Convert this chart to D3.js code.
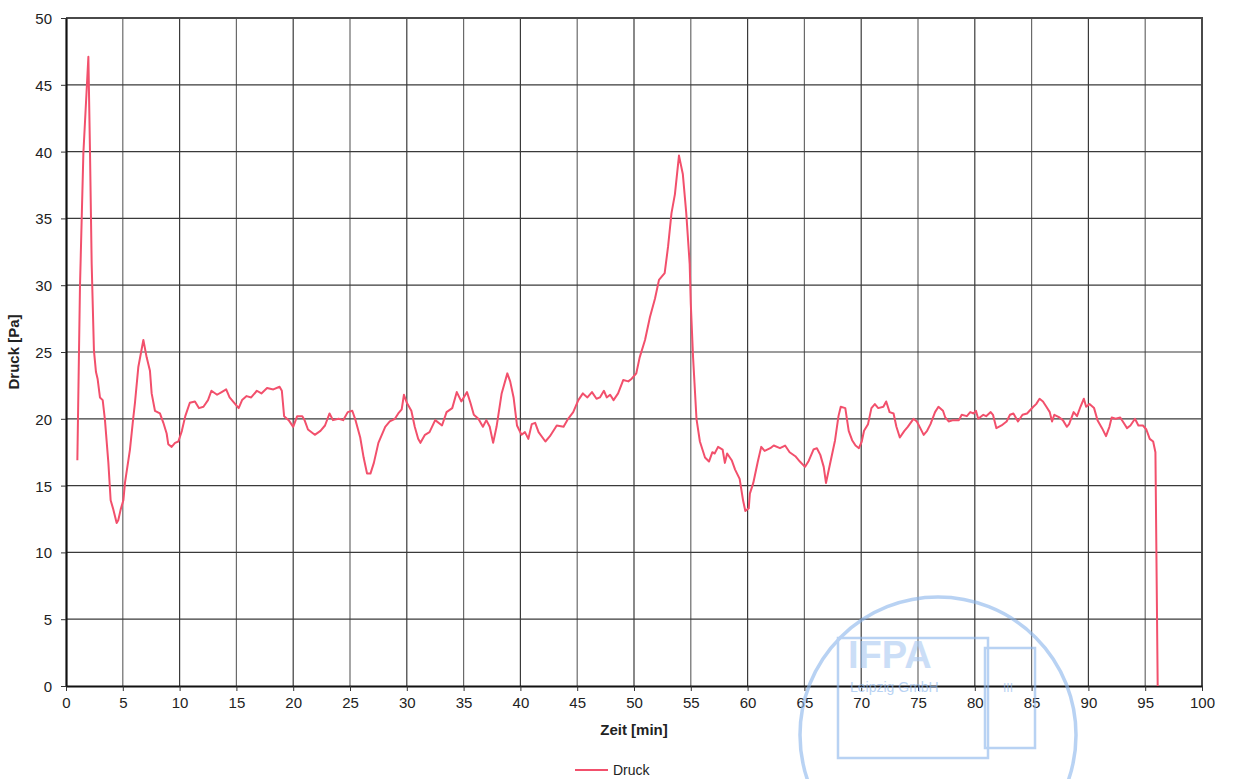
<!DOCTYPE html>
<html>
<head>
<meta charset="utf-8">
<script src="https://cdn.jsdelivr.net/npm/d3@7"></script>
<style>
	body { margin: 0; background: #fff; }
	svg { display: block; font-family: "Liberation Sans", Arial, sans-serif; }
</style>
</head>
<body>
<svg id="container"></svg>
<script>
// Zeit in min, Druck in Pa
var zeit = [1.0, 1.23, 1.53, 1.97, 2.11, 2.26, 2.46, 2.64, 2.78, 2.99, 3.23, 3.43, 3.73, 3.93, 4.17, 4.46, 4.6, 4.81, 5.05, 5.19,
	5.63, 5.9, 6.07, 6.37, 6.81, 7.1, 7.39, 7.54, 7.83, 8.27, 8.57, 8.86, 9.0, 9.3, 9.6, 9.89, 10.2, 10.5, 10.9, 11.35,
	11.7, 12.1, 12.5, 12.8, 13.3, 13.7, 14.1, 14.4, 14.9, 15.2, 15.5, 15.9, 16.3, 16.8, 17.2, 17.7, 18.25, 18.8, 19.0, 19.2,
	19.6, 20.0, 20.35, 20.8, 21.0, 21.3, 21.9, 22.4, 22.8, 23.2, 23.5, 24.0, 24.4, 24.8, 25.2, 25.45, 25.9, 26.2, 26.5, 26.8,
	27.1, 27.5, 28.1, 28.5, 28.95, 29.25, 29.55, 29.75, 30.0, 30.4, 30.7, 31.0, 31.2, 31.6, 32.0, 32.5, 33.1, 33.5, 34.0, 34.4,
	34.8, 35.3, 35.6, 35.9, 36.3, 36.7, 37.0, 37.3, 37.6, 37.9, 38.35, 38.85, 39.1, 39.4, 39.7, 40.1, 40.4, 40.7, 41.0, 41.3,
	41.6, 42.2, 42.6, 43.2, 43.8, 44.2, 44.65, 45.1, 45.5, 45.9, 46.3, 46.7, 47.0, 47.35, 47.6, 47.9, 48.2, 48.6, 49.05, 49.5,
	49.8, 50.2, 50.5, 50.97, 51.4, 51.85, 52.2, 52.7, 53.0, 53.3, 53.6, 53.96, 54.3, 54.6, 54.9, 55.0, 55.2, 55.5, 55.8, 56.25,
	56.6, 56.9, 57.1, 57.4, 57.8, 58.0, 58.2, 58.6, 58.9, 59.3, 59.6, 59.8, 60.1, 60.2, 60.5, 60.9, 61.2, 61.5, 62.0, 62.3,
	62.85, 63.3, 63.7, 64.2, 64.6, 65.05, 65.35, 65.8, 66.1, 66.4, 66.7, 66.9, 67.25, 67.7, 68.0, 68.2, 68.6, 68.9, 69.2, 69.5,
	69.8, 70.05, 70.25, 70.6, 70.9, 71.2, 71.5, 71.95, 72.2, 72.5, 72.85, 73.1, 73.4, 73.8, 74.1, 74.6, 74.9, 75.2, 75.5, 75.8,
	76.1, 76.5, 76.8, 77.2, 77.4, 77.7, 78.1, 78.6, 78.85, 79.3, 79.6, 79.9, 80.1, 80.3, 80.75, 81.0, 81.4, 81.6, 81.9, 82.35,
	82.8, 83.1, 83.4, 83.8, 84.2, 84.6, 85.15, 85.4, 85.7, 86.0, 86.3, 86.6, 86.8, 87.0, 87.45, 87.75, 88.1, 88.3, 88.7, 89.0,
	89.3, 89.6, 89.8, 90.1, 90.5, 90.8, 91.2, 91.55, 91.85, 92.05, 92.4, 92.8, 93.1, 93.4, 93.7, 94.1, 94.4, 94.8, 95.1, 95.4,
	95.7, 95.9, 96.1];
var druck = [16.9, 29.9, 39.9, 47.1, 40.1, 31.6, 25.1, 23.5, 23.0, 21.6, 21.4, 19.9, 16.7, 13.9, 13.2, 12.2, 12.4, 13.2, 13.9, 15.2,
	17.7, 19.9, 21.2, 23.9, 25.9, 24.6, 23.6, 21.9, 20.6, 20.4, 19.7, 18.9, 18.1, 17.9, 18.2, 18.3, 19.1, 20.2, 21.2, 21.3,
	20.8, 20.9, 21.4, 22.1, 21.8, 22.0, 22.2, 21.6, 21.1, 20.8, 21.4, 21.7, 21.6, 22.1, 21.9, 22.3, 22.2, 22.4, 22.1, 20.2,
	19.9, 19.4, 20.2, 20.2, 19.9, 19.2, 18.8, 19.1, 19.5, 20.4, 19.9, 20.0, 19.9, 20.5, 20.6, 20.0, 18.6, 17.1, 15.9, 15.9,
	16.7, 18.2, 19.4, 19.8, 20.0, 20.4, 20.7, 21.8, 21.2, 20.6, 19.4, 18.5, 18.2, 18.8, 19.0, 19.9, 19.5, 20.5, 20.8, 22.0,
	21.3, 22.0, 21.2, 20.3, 20.0, 19.4, 19.9, 19.4, 18.2, 19.4, 21.9, 23.4, 22.8, 21.6, 19.5, 18.8, 19.0, 18.5, 19.6, 19.7,
	19.0, 18.3, 18.7, 19.5, 19.4, 20.0, 20.5, 21.4, 21.9, 21.6, 22.0, 21.5, 21.6, 22.1, 21.6, 21.8, 21.4, 21.9, 22.9, 22.8,
	23.0, 23.4, 24.6, 25.9, 27.6, 29.0, 30.4, 30.9, 32.9, 35.4, 36.8, 39.7, 38.3, 35.4, 31.6, 28.6, 24.6, 20.0, 18.3, 17.1,
	16.8, 17.5, 17.4, 17.9, 17.7, 16.7, 17.4, 16.9, 16.2, 15.5, 13.9, 13.1, 13.3, 14.4, 15.2, 16.8, 17.9, 17.6, 17.8, 18.0,
	17.8, 18.0, 17.5, 17.2, 16.8, 16.4, 16.8, 17.7, 17.8, 17.3, 16.4, 15.2, 16.6, 18.4, 20.2, 20.9, 20.8, 19.1, 18.4, 18.0,
	17.8, 18.3, 19.1, 19.6, 20.8, 21.1, 20.8, 20.9, 21.3, 20.5, 20.4, 19.4, 18.6, 19.1, 19.4, 20.0, 19.8, 19.3, 18.8, 19.1,
	19.6, 20.5, 20.9, 20.6, 20.1, 19.8, 19.9, 19.9, 20.3, 20.2, 20.5, 20.4, 20.6, 20.0, 20.3, 20.2, 20.5, 20.3, 19.3, 19.5,
	19.8, 20.3, 20.4, 19.8, 20.3, 20.4, 20.9, 21.1, 21.5, 21.3, 20.9, 20.5, 19.8, 20.3, 20.1, 19.9, 19.4, 19.6, 20.5, 20.2,
	20.9, 21.5, 20.9, 21.1, 20.8, 19.9, 19.3, 18.7, 19.4, 20.1, 20.0, 20.1, 19.7, 19.3, 19.5, 20.0, 19.5, 19.5, 19.2, 18.5,
	18.3, 17.5, 0];

var xTicks = d3.range(0, 101, 5);
var yTicks = d3.range(0, 51, 5);
var seriesName = "Druck";

const margin = {
		top: 18,
		right: 32,
		bottom: 93,
		left: 66
	},
	W = 1234,
	H = 779,
	w = W - margin.left - margin.right,
	h = H - margin.top - margin.bottom;

var root = d3.select("#container")
	.attr("width", W)
	.attr("height", H);

root.append("rect").attr("width", W).attr("height", H).attr("fill", "#fff");

var svg = root.append("g")
	.attr("transform", "translate(" + margin.left + "," + margin.top + ")");

var xScale = d3.scaleLinear().domain([0, 100]).range([0, w]);
var yScale = d3.scaleLinear().domain([0, 50]).range([h, 0]);

// grid
svg.append("g")
	.selectAll("line")
	.data(xTicks.filter(d => d > 0 && d < 100))
	.enter()
	.append("line")
	.attr("x1", d => xScale(d))
	.attr("x2", d => xScale(d))
	.attr("y1", 0)
	.attr("y2", h)
	.attr("stroke", (d, i) => i % 2 ? "#3a3a3a" : "#6a6a6a")
	.attr("stroke-width", 1.2);

svg.append("g")
	.selectAll("line")
	.data(yTicks.filter(d => d > 0))
	.enter()
	.append("line")
	.attr("x1", 0)
	.attr("x2", w)
	.attr("y1", d => yScale(d))
	.attr("y2", d => yScale(d))
	.attr("stroke", "#3a3a3a")
	.attr("stroke-width", 1.2);

// frame top/right
svg.append("path")
	.attr("d", "M0,0H" + w + "V" + h)
	.attr("fill", "none")
	.attr("stroke", "#4a4a4a")
	.attr("stroke-width", 2);

var xAxis = d3.axisBottom(xScale).tickValues(xTicks).tickSize(5).tickPadding(6).tickSizeOuter(0);
var yAxis = d3.axisLeft(yScale).tickValues(yTicks).tickSize(5).tickPadding(9).tickSizeOuter(0);

var gX = svg.append("g")
	.attr("transform", "translate(0," + h + ")")
	.call(xAxis);
var gY = svg.append("g").call(yAxis);

[gX, gY].forEach(function (g) {
	g.select(".domain").attr("stroke", "#111").attr("stroke-width", 2.2);
	g.selectAll(".tick line").attr("stroke", "#333");
	g.selectAll(".tick text")
		.attr("fill", "#222")
		.style("font-size", "15px")
		.style("font-family", "'Liberation Sans', Arial, sans-serif");
});
gY.selectAll(".tick text").attr("dy", "0.36em");

// stamp (blue, faint)
var stamp = root.append("g")
	.attr("opacity", 0.6)
	.attr("fill", "none")
	.attr("stroke", "#8ab5ec");
stamp.append("circle").attr("cx", 938).attr("cy", 735).attr("r", 138).attr("stroke-width", 3.5);
stamp.append("rect").attr("x", 838).attr("y", 638).attr("width", 150).attr("height", 120).attr("stroke-width", 2.5);
stamp.append("rect").attr("x", 985).attr("y", 648).attr("width", 50).attr("height", 100).attr("stroke-width", 2.5);
stamp.append("text").attr("x", 848).attr("y", 668).text("IFPA")
	.attr("fill", "#a9c9f2").attr("stroke", "none")
	.style("font-size", "38px").style("font-weight", "bold");
stamp.append("text").attr("x", 850).attr("y", 692).text("Leipzig GmbH")
	.attr("fill", "#8ab5ec").attr("stroke", "none")
	.style("font-size", "14px");
stamp.append("text").attr("x", 1003).attr("y", 692).text("III")
	.attr("fill", "#8ab5ec").attr("stroke", "none")
	.style("font-size", "12px");

// series
var line = d3.line()
	.x((d, i) => xScale(zeit[i]))
	.y(d => yScale(d));

svg.append("path")
	.datum(druck)
	.attr("fill", "none")
	.attr("stroke", "#f2506c")
	.attr("stroke-width", 2)
	.attr("stroke-linejoin", "round")
	.attr("d", line);

// axis titles
svg.append("text")
	.attr("x", w / 2)
	.attr("y", h + 49)
	.attr("text-anchor", "middle")
	.style("font-size", "15px")
	.style("font-weight", "bold")
	.attr("fill", "#222")
	.text("Zeit [min]");

svg.append("text")
	.attr("transform", "translate(-47," + (h / 2) + ") rotate(-90)")
	.attr("text-anchor", "middle")
	.style("font-size", "15px")
	.style("font-weight", "bold")
	.attr("fill", "#222")
	.text("Druck [Pa]");

// legend
var leg = root.append("g").attr("transform", "translate(575,770)");
leg.append("line").attr("x1", 0).attr("x2", 33).attr("y1", 0).attr("y2", 0)
	.attr("stroke", "#f2506c").attr("stroke-width", 2);
leg.append("text").attr("x", 38).attr("y", 5)
	.style("font-size", "14px")
	.attr("fill", "#222")
	.text(seriesName);
</script>
</body>
</html>
